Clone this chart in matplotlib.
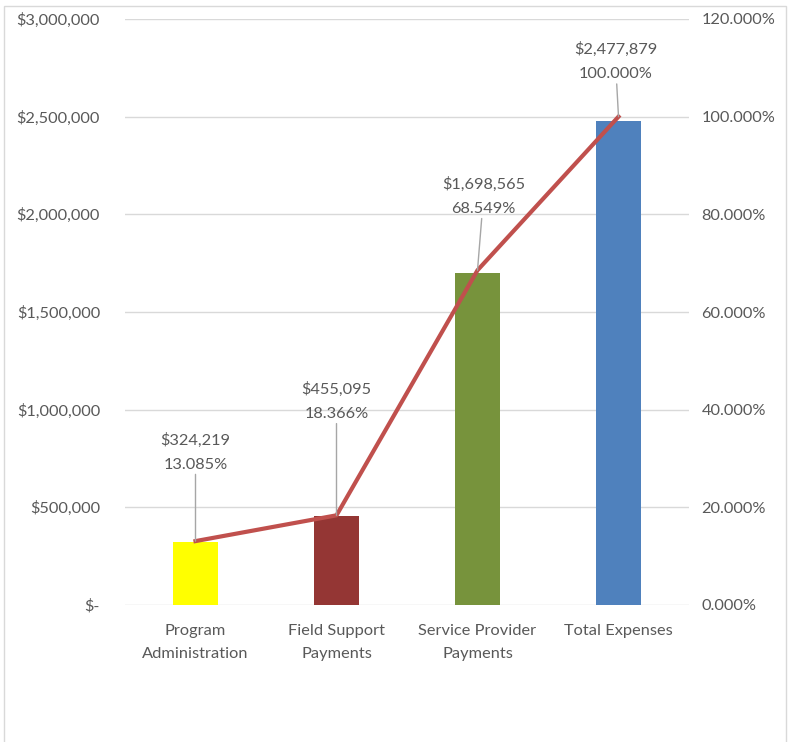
import matplotlib.pyplot as plt
from matplotlib.patches import Rectangle
from matplotlib.ticker import FuncFormatter
import numpy as np

categories = ["Program\nAdministration", "Field Support\nPayments",
              "Service Provider\nPayments", "Total Expenses"]
amounts = [324219, 455095, 1698565, 2477879]
percents = [13.085, 18.366, 68.549, 100.0]
bar_colors = ["#FFFF00", "#943634", "#77933C", "#4F81BD"]

# label offsets (pixels) from the line point
label_offsets = [(0, 89), (0, 114), (6, 74), (-3, 55)]

TEXT = "#595959"
GRID = "#D9D9D9"
plt.rcParams["font.family"] = ["Lato", "DejaVu Sans"]
plt.rcParams["font.size"] = 11.8

fig = plt.figure(figsize=(7.89, 7.42), dpi=100)
ax = fig.add_axes([125 / 789, 1 - 605 / 742, 564 / 789, 586 / 742])
ax2 = ax.twinx()

x = np.arange(len(categories))
ax.bar(x, amounts, width=0.32, color=bar_colors, zorder=2)
ax.set_xlim(-0.5, len(categories) - 0.5)
ax.set_ylim(0, 3000000)
ax.set_yticks(np.arange(0, 3000001, 500000))


def money(v, pos):
    if v == 0:
        return "$-"
    return "${:,.0f}".format(v)


ax.yaxis.set_major_formatter(FuncFormatter(money))
ax.grid(axis="y", color=GRID, lw=1, zorder=0)
ax.set_axisbelow(True)
ax.set_xticks(x)
ax.set_xticklabels(categories, color=TEXT, linespacing=1.8)
ax.tick_params(axis="x", length=0, pad=14)
ax.tick_params(axis="y", length=0, pad=18, labelcolor=TEXT)

ax2.plot(x, percents, color="#C0504D", lw=3, zorder=3)
ax2.set_ylim(0, 120)
ax2.set_yticks(np.arange(0, 121, 20))
ax2.yaxis.set_major_formatter(FuncFormatter(lambda v, p: "{:.3f}%".format(v)))
ax2.tick_params(axis="y", length=0, pad=9, labelcolor=TEXT)

for a in (ax, ax2):
    for s in a.spines.values():
        s.set_visible(False)

for i in range(len(categories)):
    txt = "${:,.0f}\n{:.3f}%".format(amounts[i], percents[i])
    ax2.annotate(txt, xy=(x[i], percents[i]), xytext=label_offsets[i],
                 textcoords="offset pixels", ha="center", va="center",
                 color=TEXT, linespacing=1.9,
                 arrowprops=dict(arrowstyle="-", color="#A6A6A6", lw=1,
                                 shrinkA=0, shrinkB=0))

fig.patches.append(Rectangle((4 / 789, -0.01), 782 / 789, 1 - 6 / 742 + 0.01,
                             transform=fig.transFigure, fill=False,
                             edgecolor=GRID, lw=1))

fig.savefig("out.png", dpi=100)
